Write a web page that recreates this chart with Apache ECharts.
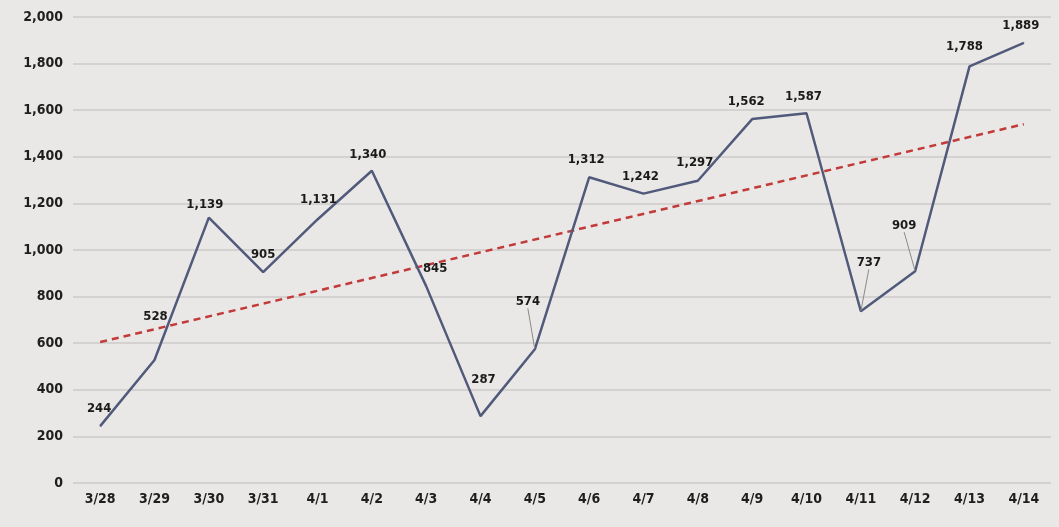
<!DOCTYPE html>
<html><head><meta charset="utf-8">
<script src="https://cdn.jsdelivr.net/npm/echarts@6/dist/echarts.min.js"></script>
<style>html,body{margin:0;padding:0;background:#e9e8e6;}#c{width:1059px;height:527px;}</style>
</head><body><div id="c"></div>
<script>
const categories = ['3/28','3/29','3/30','3/31','4/1','4/2','4/3','4/4','4/5','4/6','4/7','4/8','4/9','4/10','4/11','4/12','4/13','4/14'];
const values = [244,528,1139,905,1131,1340,845,287,574,1312,1242,1297,1562,1587,737,909,1788,1889];
const trendStart = 605;
const trendEnd = 1540;
const yTicks = {min:0, max:2000, interval:200};

const FONT = "'DejaVu Sans Condensed','Liberation Sans Narrow',sans-serif";
// label offsets (label centre relative to point), px
const labelOff = [[-1,-17],[1,-43],[-4,-12],[0,-17],[1,-19],[-4,-16],[9,-17],[3,-36],[-7,-47],[-3,-17],[-3,-16],[-3,-18],[-6,-17],[-3,-16],[8,-48],[-11,-45],[-5,-19],[-3,-17]];
const leader = [8,14,15];
const fmt = v => Number(v).toLocaleString('en-US');

const trendData = categories.map((c,i)=> i===0 ? trendStart : (i===categories.length-1 ? trendEnd : null));
const lineData = values.map((v,i)=>({
  value:v,
  labelLine: leader.includes(i) ? {show:true, lineStyle:{color:'#8a8a8a', width:1}} : {show:false}
}));

const chart = echarts.init(document.getElementById('c'));
chart.setOption({
  backgroundColor:'#e9e8e6',
  animation:false,
  grid:{left:73, right:8, top:17, bottom:44},
  xAxis:{type:'category', data:categories, boundaryGap:true,
    axisLine:{show:false}, axisTick:{show:false},
    axisLabel:{color:'#1e1e1e', fontFamily:FONT, fontWeight:'bold', fontSize:14, margin:9}},
  yAxis:{type:'value', min:yTicks.min, max:yTicks.max, interval:yTicks.interval,
    axisLine:{show:false}, axisTick:{show:false},
    splitLine:{lineStyle:{color:'#d3d2d0', width:2}},
    axisLabel:{color:'#1e1e1e', fontFamily:FONT, fontWeight:'bold', fontSize:14, margin:10, formatter:fmt}},
  series:[
    {type:'line', data:trendData, connectNulls:true, symbol:'none', z:1,
      lineStyle:{color:'#c23a3a', width:2.5, type:[7,5]}, silent:true},
    {type:'line', data:lineData, symbol:'circle', symbolSize:1, z:3,
      itemStyle:{color:'#515a7a'},
      lineStyle:{color:'#515a7a', width:2.5},
      label:{show:true, position:'top', distance:5, color:'#1a1a1a', fontFamily:FONT, fontWeight:'bold', fontSize:13, formatter:p=>fmt(p.value)},
      labelLayout: p => ({dx:labelOff[p.dataIndex][0], dy:labelOff[p.dataIndex][1]+11.5})
    }
  ]
});
</script></body></html>
